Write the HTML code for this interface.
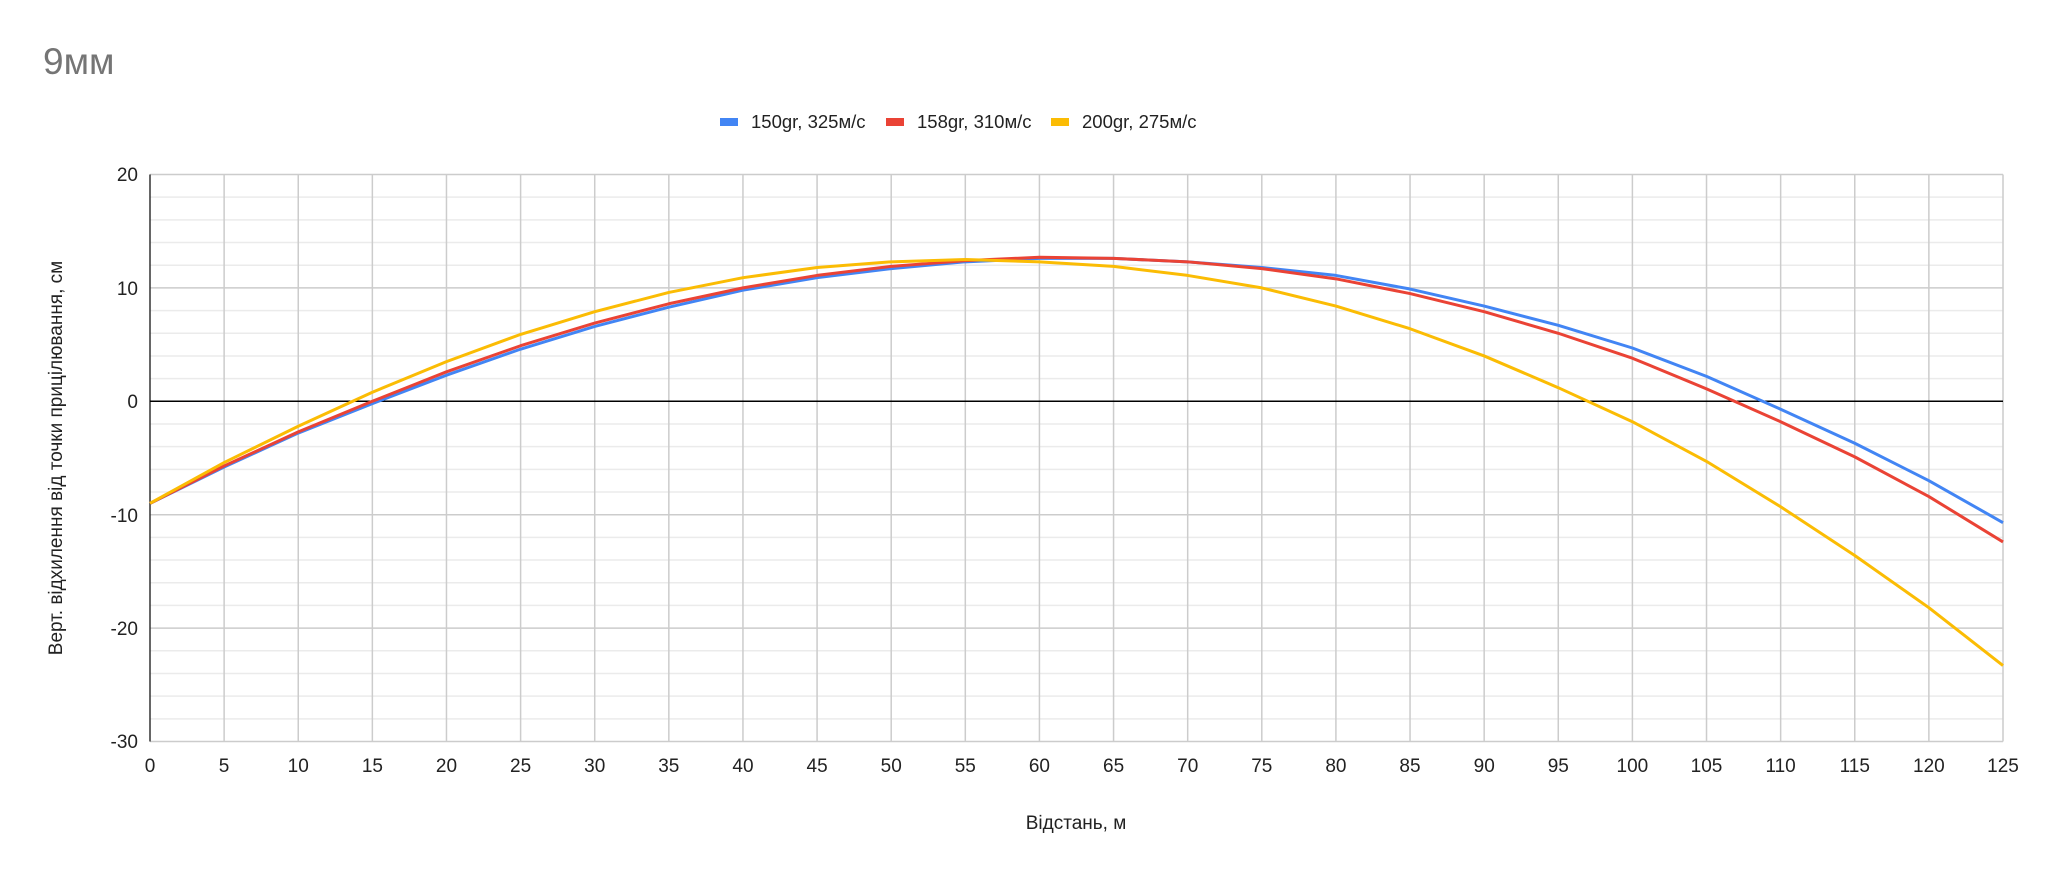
<!DOCTYPE html>
<html><head><meta charset="utf-8"><style>
html,body{margin:0;padding:0;background:#fff;}
svg{display:block;font-family:"Liberation Sans",Arial,sans-serif;}
</style></head><body>
<svg width="2048" height="877" viewBox="0 0 2048 877" xmlns="http://www.w3.org/2000/svg">
<rect width="2048" height="877" fill="#fff"/>
<text x="43" y="74" font-size="37" fill="#757575">9мм</text>
<!-- legend -->
<rect x="720" y="118" width="18" height="8" fill="#4285f4"/>
<text x="751" y="128" font-size="18.5" fill="#222">150gr, 325м/с</text>
<rect x="886" y="118" width="18" height="8" fill="#ea4335"/>
<text x="917" y="128" font-size="18.5" fill="#222">158gr, 310м/с</text>
<rect x="1051" y="118" width="18" height="8" fill="#fbbc04"/>
<text x="1082" y="128" font-size="18.5" fill="#222">200gr, 275м/с</text>
<g transform="translate(150,401.3) scale(14.824,-11.34)" fill="none">
<g stroke="#ebebeb" stroke-width="1.5" vector-effect="non-scaling-stroke">
<path vector-effect="non-scaling-stroke" d="M0 18H125M0 16H125M0 14H125M0 12H125M0 8H125M0 6H125M0 4H125M0 2H125M0 -2H125M0 -4H125M0 -6H125M0 -8H125M0 -12H125M0 -14H125M0 -16H125M0 -18H125M0 -22H125M0 -24H125M0 -26H125M0 -28H125"/>
</g>
<path vector-effect="non-scaling-stroke" stroke="#cccccc" stroke-width="1.5" d="M0 20H125M0 10H125M0 -10H125M0 -20H125M0 -30H125M5 20V-30M10 20V-30M15 20V-30M20 20V-30M25 20V-30M30 20V-30M35 20V-30M40 20V-30M45 20V-30M50 20V-30M55 20V-30M60 20V-30M65 20V-30M70 20V-30M75 20V-30M80 20V-30M85 20V-30M90 20V-30M95 20V-30M100 20V-30M105 20V-30M110 20V-30M115 20V-30M120 20V-30M125 20V-30"/>
<path vector-effect="non-scaling-stroke" stroke="#333" stroke-width="1.5" d="M0 20V-30"/>
<path vector-effect="non-scaling-stroke" stroke="#000" stroke-width="1.5" d="M0 0H125"/>
<polyline vector-effect="non-scaling-stroke" stroke="#4285f4" stroke-width="3" stroke-linejoin="round" points="0,-9 5,-5.8 10,-2.8 15,-0.2 20,2.3 25,4.6 30,6.6 35,8.3 40,9.8 45,10.9 50,11.7 55,12.3 60,12.6 65,12.6 70,12.3 75,11.8 80,11.1 85,9.9 90,8.4 95,6.7 100,4.7 105,2.2 110,-0.7 115,-3.7 120,-7.0 125,-10.7"/>
<polyline vector-effect="non-scaling-stroke" stroke="#ea4335" stroke-width="3" stroke-linejoin="round" points="0,-9 5,-5.7 10,-2.7 15,0 20,2.6 25,4.9 30,6.9 35,8.6 40,10.0 45,11.1 50,11.9 55,12.4 60,12.7 65,12.6 70,12.3 75,11.7 80,10.8 85,9.5 90,7.9 95,6.0 100,3.8 105,1.1 110,-1.8 115,-4.9 120,-8.4 125,-12.4"/>
<polyline vector-effect="non-scaling-stroke" stroke="#fbbc04" stroke-width="3" stroke-linejoin="round" points="0,-9 5,-5.4 10,-2.2 15,0.8 20,3.5 25,5.9 30,7.9 35,9.6 40,10.9 45,11.8 50,12.3 55,12.5 60,12.3 65,11.9 70,11.1 75,10.0 80,8.4 85,6.4 90,4.0 95,1.2 100,-1.8 105,-5.3 110,-9.3 115,-13.6 120,-18.2 125,-23.3"/>
</g>
<g font-size="19" fill="#222" text-anchor="end">
<text x="138" y="181">20</text>
<text x="138" y="295">10</text>
<text x="138" y="408">0</text>
<text x="138" y="522">-10</text>
<text x="138" y="635">-20</text>
<text x="138" y="748">-30</text>
</g>
<g font-size="19" fill="#222" text-anchor="middle">
<text x="150" y="772">0</text><text x="224.1" y="772">5</text><text x="298.2" y="772">10</text><text x="372.4" y="772">15</text><text x="446.5" y="772">20</text><text x="520.6" y="772">25</text><text x="594.7" y="772">30</text><text x="668.8" y="772">35</text><text x="743" y="772">40</text><text x="817.1" y="772">45</text><text x="891.2" y="772">50</text><text x="965.3" y="772">55</text><text x="1039.4" y="772">60</text><text x="1113.6" y="772">65</text><text x="1187.7" y="772">70</text><text x="1261.8" y="772">75</text><text x="1335.9" y="772">80</text><text x="1410" y="772">85</text><text x="1484.2" y="772">90</text><text x="1558.3" y="772">95</text><text x="1632.4" y="772">100</text><text x="1706.5" y="772">105</text><text x="1780.6" y="772">110</text><text x="1854.8" y="772">115</text><text x="1928.9" y="772">120</text><text x="2003" y="772">125</text>
<text x="1076" y="829">Відстань, м</text>
<text transform="translate(62,458) rotate(-90)">Верт. відхилення від точки прицілювання, см</text>
</g>
</svg>
</body></html>
